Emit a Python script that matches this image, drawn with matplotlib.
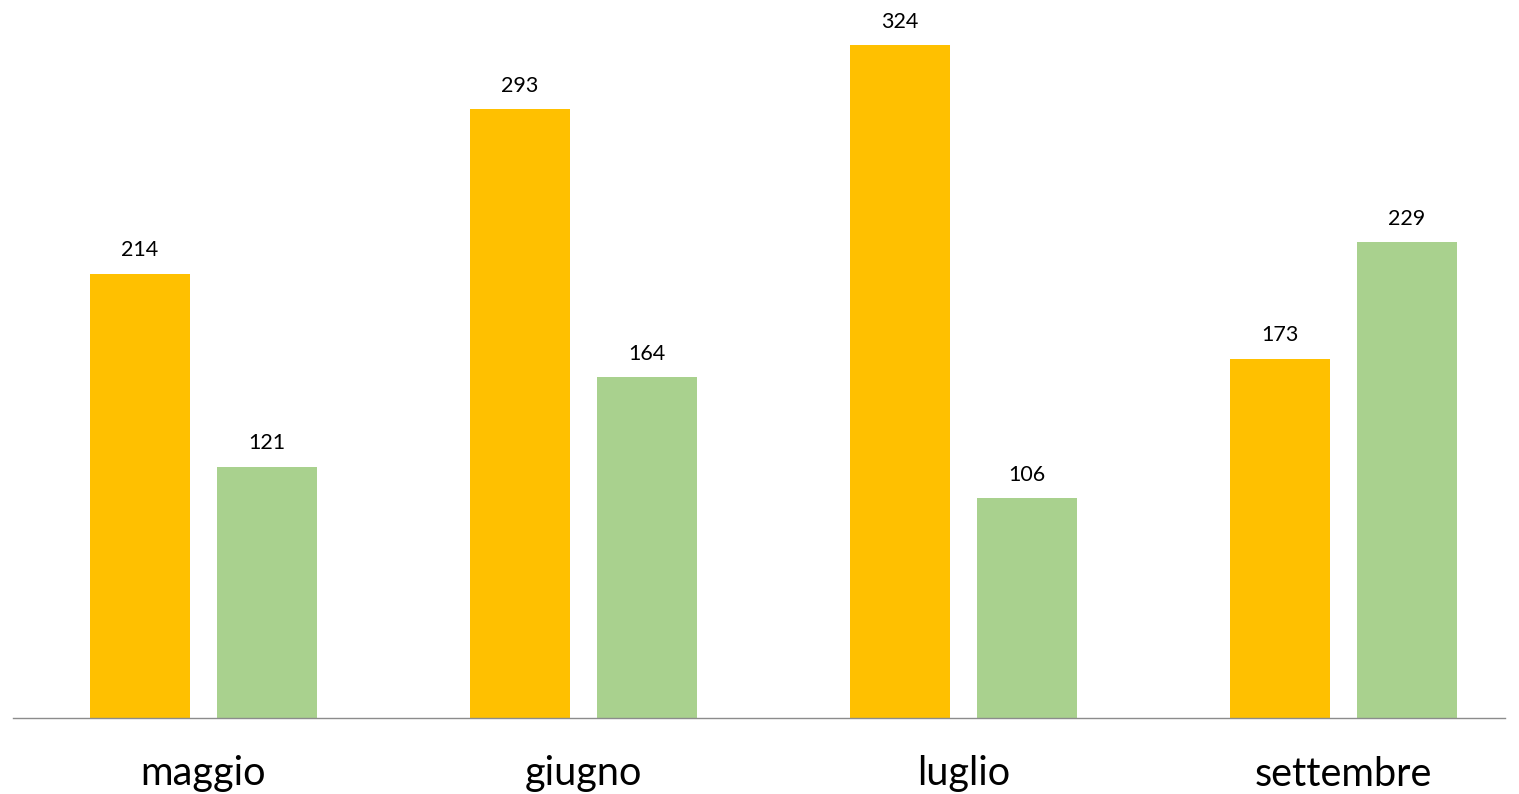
import matplotlib
matplotlib.use("Agg")
import matplotlib.pyplot as plt
import numpy as np

categories = ["maggio", "giugno", "luglio", "settembre"]
series_a = [214, 293, 324, 173]
series_b = [121, 164, 106, 229]

plt.rcParams['font.family'] = ['Lato', 'DejaVu Sans']

fig = plt.figure(figsize=(15.19, 7.94), dpi=100)
ax = fig.add_axes([13/1519, 76/794, 1492/1519, 718/794])
ax.set_xlim(-0.501, 3.425)
ax.set_ylim(0, 345.7)

x = np.arange(len(categories))
w = 0.265
off = 0.167
b1 = ax.bar(x - off, series_a, w, color="#FFC000")
b2 = ax.bar(x + off, series_b, w, color="#A9D18E")
for bars in (b1, b2):
    for r in bars:
        ax.annotate(f"{int(r.get_height())}", (r.get_x() + r.get_width()/2, r.get_height()),
                    xytext=(0, 9.5), textcoords="offset points", ha="center", va="bottom",
                    fontsize=15.5, color="black")

for s in ["top", "right", "left"]:
    ax.spines[s].set_visible(False)
ax.spines["bottom"].set_color("#8c8c8c")
ax.spines["bottom"].set_linewidth(1)
ax.set_yticks([])
ax.set_xticks(x)
ax.set_xticklabels(categories, fontsize=28.5)
ax.tick_params(axis="x", length=0, pad=27)

fig.savefig("out.png", dpi=100)
